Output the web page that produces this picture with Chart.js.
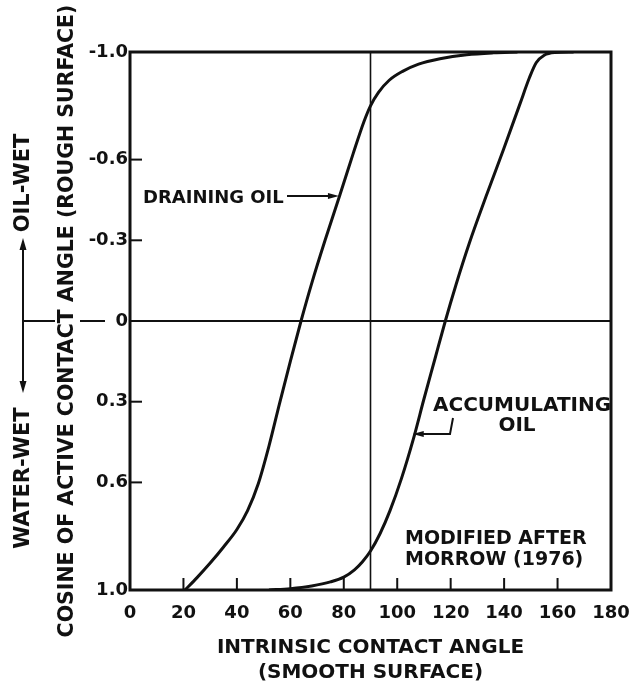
<!DOCTYPE html>
<html lang="en">
<head>
  <meta charset="UTF-8">
  <title>Contact Angle Hysteresis</title>
  <script src="https://cdn.jsdelivr.net/npm/chart.js"></script>
  <style>
    body {
      margin: 0;
      background: #fff;
    }
    .wrap {
      width: 640px;
      height: 685px;
    }
  </style>
</head>
<body>
  <div class="wrap"><canvas id="angleChart"></canvas></div>

  <script>
    // Draining oil: intrinsic angle (deg) vs cosine of active angle
    const drainAngle = [20.6, 25, 30, 35, 40, 44, 48, 52, 56, 60, 64, 68, 73, 78.6, 83.6, 87.5, 90, 93, 97, 102, 108, 116, 126, 136, 145];
    const drainCos   = [1.0, 0.955, 0.9, 0.84, 0.775, 0.705, 0.605, 0.465, 0.305, 0.15, 0.0, -0.14, -0.3, -0.47, -0.625, -0.74, -0.8, -0.85, -0.895, -0.928, -0.955, -0.975, -0.99, -0.997, -1.0];

    // Accumulating oil
    const accumAngle = [52, 60, 68, 75, 80, 84, 87, 90, 93.6, 97.3, 101.6, 106, 110, 114, 118, 122, 127, 133.5, 139.7, 146, 149.5, 152, 155, 159, 166];
    const accumCos   = [1.0, 0.995, 0.985, 0.97, 0.952, 0.925, 0.895, 0.855, 0.79, 0.705, 0.585, 0.44, 0.29, 0.145, 0.0, -0.135, -0.29, -0.47, -0.636, -0.809, -0.905, -0.96, -0.988, -0.998, -1.0];

    const xTicks = [0, 20, 40, 60, 80, 100, 120, 140, 160, 180];
    const yTicks = [-1.0, -0.6, -0.3, 0, 0.3, 0.6, 1.0];
    const xTitle = ['INTRINSIC CONTACT ANGLE', '(SMOOTH SURFACE)'];
    const yTitle = 'COSINE OF ACTIVE CONTACT ANGLE (ROUGH SURFACE)';

    const INK = '#111';
    const FONT = "'DejaVu Sans', sans-serif";

    function toPoints(xs, ys) {
      return xs.map((x, i) => ({ x: x, y: ys[i] }));
    }

    // filled arrow head with its tip at (tx, ty), pointing along (ux, uy)
    function arrowHead(ctx, tx, ty, ux, uy, len, half) {
      const bx = tx - ux * len, by = ty - uy * len;
      ctx.beginPath();
      ctx.moveTo(tx, ty);
      ctx.lineTo(bx - uy * half, by + ux * half);
      ctx.lineTo(bx + uy * half, by - ux * half);
      ctx.closePath();
      ctx.fill();
    }

    function line(ctx, x1, y1, x2, y2) {
      ctx.beginPath();
      ctx.moveTo(x1, y1);
      ctx.lineTo(x2, y2);
      ctx.stroke();
    }

    const decorations = {
      id: 'decorations',
      afterDraw(chart) {
        const { ctx, chartArea: a, scales: { x, y } } = chart;
        ctx.save();
        ctx.strokeStyle = INK;
        ctx.fillStyle = INK;

        // 90 degree reference line
        ctx.lineWidth = 1.6;
        const x90 = x.getPixelForValue(90);
        line(ctx, x90, a.top, x90, a.bottom);

        // inward tick marks
        ctx.lineWidth = 2;
        xTicks.slice(1, -1).forEach(v => {
          const px = x.getPixelForValue(v);
          line(ctx, px, a.bottom, px, a.bottom - 12);
        });
        yTicks.filter(v => Math.abs(v) !== 1 && v !== 0).forEach(v => {
          const py = y.getPixelForValue(v);
          line(ctx, a.left, py, a.left + 12, py);
        });

        // frame
        ctx.lineWidth = 3;
        ctx.strokeRect(a.left, a.top, a.width, a.height);

        // oil-wet / water-wet arrows left of the axis
        const y0 = y.getPixelForValue(0);
        const ax = 23;
        ctx.lineWidth = 2;
        line(ctx, ax, y0, 55, y0);
        line(ctx, 80, y0, 105, y0);
        line(ctx, ax, y0, ax, 248);
        arrowHead(ctx, ax, 238, 0, -1, 12, 3.5);
        line(ctx, ax, y0, ax, 383);
        arrowHead(ctx, ax, 393, 0, 1, 12, 3.5);

        ctx.font = 'bold 21px ' + FONT;
        ctx.textAlign = 'center';
        ctx.textBaseline = 'middle';
        [['OIL-WET', 183], ['WATER-WET', 478]].forEach(([t, cy]) => {
          ctx.save();
          ctx.translate(ax + 1, cy);
          ctx.rotate(-Math.PI / 2);
          ctx.fillText(t, 0, 0);
          ctx.restore();
        });

        // draining oil label and leader
        ctx.font = 'bold 18px ' + FONT;
        ctx.textAlign = 'left';
        ctx.fillText('DRAINING OIL', 143, 198);
        const dTipX = x.getPixelForValue(78.2), dTipY = y.getPixelForValue(-0.465);
        ctx.lineWidth = 2;
        line(ctx, 287, dTipY, dTipX - 8, dTipY);
        arrowHead(ctx, dTipX, dTipY, 1, 0, 11, 3);

        // accumulating oil label and leader
        ctx.font = 'bold 20px ' + FONT;
        ctx.fillText('ACCUMULATING', 433, 406);
        ctx.textAlign = 'center';
        ctx.fillText('OIL', 517, 426);
        const aTipX = x.getPixelForValue(105.8), aTipY = y.getPixelForValue(0.42);
        ctx.beginPath();
        ctx.moveTo(453, 418);
        ctx.lineTo(450, aTipY);
        ctx.lineTo(aTipX + 8, aTipY);
        ctx.stroke();
        arrowHead(ctx, aTipX, aTipY, -1, 0, 11, 3);

        // source note
        ctx.font = 'bold 19px ' + FONT;
        ctx.textAlign = 'left';
        ctx.fillText('MODIFIED AFTER', 405, 539);
        ctx.fillText('MORROW (1976)', 405, 560);

        ctx.restore();
      }
    };

    new Chart(document.getElementById('angleChart'), {
      type: 'scatter',
      data: {
        datasets: [
          {
            label: 'Draining oil',
            data: toPoints(drainAngle, drainCos),
            showLine: true,
            borderColor: INK,
            borderWidth: 3,
            pointRadius: 0,
            cubicInterpolationMode: 'monotone'
          },
          {
            label: 'Accumulating oil',
            data: toPoints(accumAngle, accumCos),
            showLine: true,
            borderColor: INK,
            borderWidth: 3,
            pointRadius: 0,
            cubicInterpolationMode: 'monotone'
          }
        ]
      },
      options: {
        responsive: true,
        maintainAspectRatio: false,
        animation: false,
        layout: { padding: { top: 52, right: 29, left: 0, bottom: 0 } },
        plugins: {
          legend: { display: false },
          tooltip: { enabled: false }
        },
        scales: {
          x: {
            type: 'linear',
            min: 0,
            max: 180,
            afterBuildTicks: s => { s.ticks = xTicks.map(v => ({ value: v })); },
            afterFit: s => { s.height = 95; },
            grid: { display: false },
            border: { display: false },
            ticks: {
              color: INK,
              font: { family: FONT, size: 18, weight: 'bold' },
              padding: 5,
              maxRotation: 0,
              autoSkip: false
            },
            title: {
              display: true,
              text: xTitle,
              color: INK,
              font: { family: FONT, size: 20, weight: 'bold', lineHeight: 1.25 },
              padding: { top: 0, bottom: 0 }
            }
          },
          y: {
            type: 'linear',
            min: -1,
            max: 1,
            reverse: true,
            afterBuildTicks: s => { s.ticks = yTicks.map(v => ({ value: v })); },
            afterFit: s => { s.width = 130; },
            grid: {
              drawTicks: false,
              lineWidth: 2,
              color: c => (c.tick && c.tick.value === 0 ? INK : 'rgba(0,0,0,0)')
            },
            border: { display: false },
            ticks: {
              color: INK,
              font: { family: FONT, size: 18, weight: 'bold' },
              padding: 2,
              autoSkip: false,
              callback: v => (v === 0 ? '0' : v.toFixed(1))
            },
            title: {
              display: true,
              text: yTitle,
              color: INK,
              font: { family: FONT, size: 20.5, weight: 'bold', lineHeight: 1.2 },
              padding: { top: 55, bottom: 0 }
            }
          }
        }
      },
      plugins: [decorations]
    });
  </script>
</body>
</html>
